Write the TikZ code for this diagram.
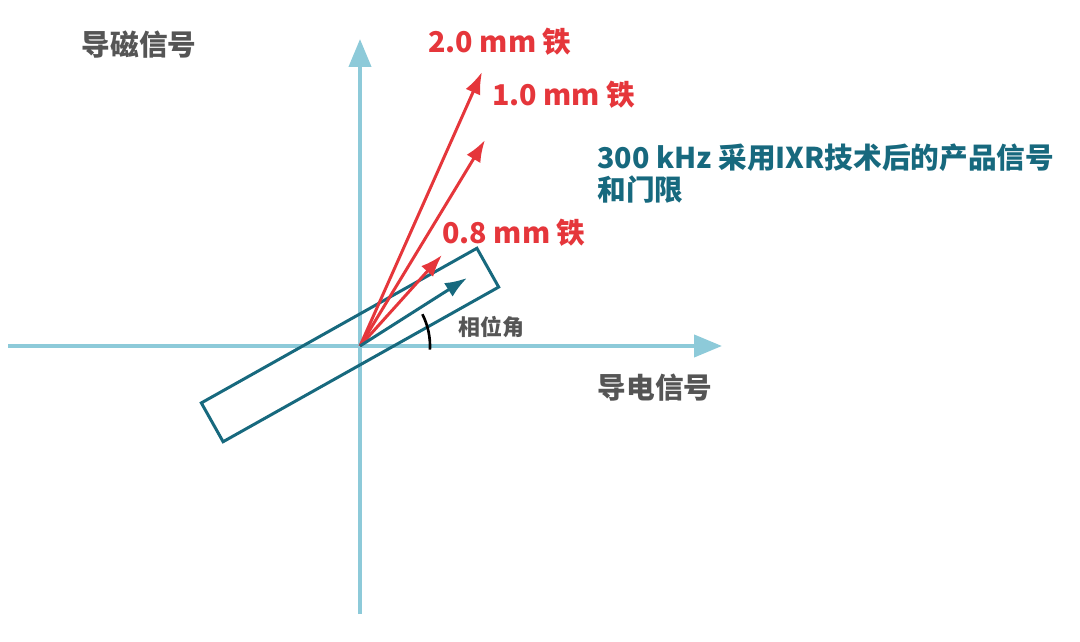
\documentclass[tikz,border=0pt]{standalone}
\usepackage{fontspec}
\setmainfont{Noto Sans CJK SC}
\usepackage{xcolor}
\definecolor{axisBlue}{HTML}{8DCAD9}
\definecolor{ironRed}{HTML}{E5363B}
\definecolor{ixrTeal}{HTML}{17697E}
\definecolor{labelGrey}{HTML}{555555}
\usetikzlibrary{positioning,calc,arrows.meta}
\tikzset{%
  axisLine/.style={%
    -{Triangle[length=5.6mm,width=4.4mm]},
    line width=2.3pt,
    color=axisBlue
  },
  ironArrow/.style={%
    -{Latex[length=4.4mm,width=3.2mm]},
    line width=1.7pt,
    color=ironRed
  },
  ixrArrow/.style={%
    -{Latex[length=4.4mm,width=3.2mm]},
    line width=1.7pt,
    color=ixrTeal
  },
  gateBox/.style={%
    rectangle,
    draw=ixrTeal,
    line width=1.7pt,
    minimum width=6.32cm,
    minimum height=0.89cm,
    inner sep=0pt
  },
  ironLabel/.style={%
    text=ironRed,
    font=\fontsize{16.3}{18}\selectfont\bfseries,
    inner sep=1pt
  },
  axisLabel/.style={%
    text=labelGrey,
    font=\fontsize{16.3}{18}\selectfont\bfseries,
    inner sep=1pt
  }
}
\begin{document}
\begin{tikzpicture}
    \useasboundingbox (0,0) rectangle (21.6,12.82);
    \coordinate (o) at (7.2,5.9);
    \coordinate (xl) at (0.16,5.9);
    \coordinate (xr) at (14.44,5.9);
    \coordinate (yb) at (7.2,0.54);
    \coordinate (yt) at (7.2,12.04);
    % axes
    \draw[axisLine] (xl) -- (xr);
    \draw[axisLine] (yb) -- (yt);
    % gate window
    \node[gateBox, rotate=29.3] (gate) at (7.0,5.92) {};
    % signal vectors
    \coordinate (t20) at (9.64,11.38);
    \coordinate (t10) at (9.70,10.02);
    \coordinate (t08) at (8.84,7.72);
    \coordinate (tixr) at (9.34,7.26);
    \draw[ironArrow] (o) -- (t20);
    \draw[ironArrow] (o) -- (t10);
    \draw[ironArrow] (o) -- (t08);
    \draw[ixrArrow] (o) -- (tixr);
    % phase angle
    \draw[line width=1.5pt] ($(o)+(-3:1.4)$) arc[start angle=-3, end angle=27, radius=1.4];
    \node[text=labelGrey, font=\fontsize{12.5}{14}\selectfont\bfseries] (phase) at (9.83,6.27) {相位角};
    % labels
    \node[ironLabel] (l20) at (10.0,11.98) {2.0 mm 铁};
    \node[ironLabel, anchor=west] (l10) at (9.8,10.92) {1.0 mm 铁};
    \node[ironLabel] (l08) at (10.28,8.16) {0.8 mm 铁};
    \node[text=ixrTeal, font=\fontsize{16.3}{18.2}\selectfont\bfseries, align=left, anchor=west, inner sep=0pt] (ixr) at (11.94,9.34) {300 kHz 采用IXR技术后的产品信号\\和门限};
    \node[axisLabel] (ylab) at (2.78,11.92) {导磁信号};
    \node[axisLabel] (xlab) at (13.1,5.06) {导电信号};
\end{tikzpicture}
\end{document}
